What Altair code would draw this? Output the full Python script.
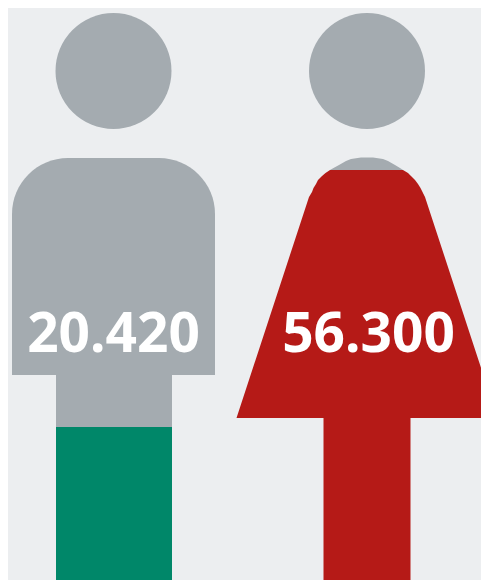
import altair as alt
import pandas as pd

BG = "#eceef0"
GREY = "#a4abb0"
RED = "#b51a17"
GREEN = "#008769"

# rectangles
rect_x = [12, 56, 56, 323.5]
rect_x2 = [215, 172, 172, 410.5]
rect_y = [158, 375, 427, 418]
rect_y2 = [375, 427, 588, 588]
rect_part = ["torso", "upper leg", "lower leg", "skirt leg"]

# heads
head_x = [113.5, 367]
head_y = [71, 71]

# dress silhouette
cap_y = [157.5, 159, 161, 163, 165, 168, 170]
cap_l = [361, 351, 346, 342.5, 339, 333.5, 330]
cap_r = [373, 383, 388, 391.5, 395, 400, 403]
dress_y = [170, 173, 176, 180, 184, 188, 192, 197, 418]
dress_l = [330, 325.5, 322, 318, 316, 313.5, 312, 309, 236.5]
dress_r = [403, 408, 411, 415, 418, 420.5, 422.5, 425, 497.5]

# labels
label_x = [113.5, 368.5]
label_y = [352, 352]
label_text = ["20.420", "56.300"]

x_scale = alt.Scale(domain=[8, 481], range=[0, 473], nice=False, zero=False)
y_scale = alt.Scale(domain=[8, 580], range=[0, 572], nice=False, zero=False)
X = lambda f: alt.X(f, type="quantitative", scale=x_scale, axis=None)
Y = lambda f: alt.Y(f, type="quantitative", scale=y_scale, axis=None)

rects = pd.DataFrame({"x": rect_x, "x2": rect_x2, "y": rect_y, "y2": rect_y2, "part": rect_part})
heads = pd.DataFrame({"x": head_x, "y": head_y})
cap = pd.DataFrame({"y": cap_y, "l": cap_l, "r": cap_r})
dress = pd.DataFrame({"y": dress_y, "l": dress_l, "r": dress_r})
labels = pd.DataFrame({"x": label_x, "y": label_y, "t": label_text})


def rect_layer(part, color, **kw):
    return alt.Chart(rects[rects.part == part]).mark_rect(color=color, clip=True, **kw).encode(
        x=X("x"), x2="x2", y=Y("y"), y2="y2")


def shape_layer(df, color):
    return alt.Chart(df).mark_area(orient="horizontal", color=color, clip=True, opacity=1).encode(
        y=Y("y"), x=X("l"), x2="r")


layers = [
    alt.Chart(heads).mark_circle(color=GREY, opacity=1, size=13456).encode(x=X("x"), y=Y("y")),
    rect_layer("torso", GREY, cornerRadiusTopLeft=56, cornerRadiusTopRight=56),
    rect_layer("upper leg", GREY),
    rect_layer("lower leg", GREEN),
    shape_layer(cap, GREY),
    shape_layer(dress, RED),
    rect_layer("skirt leg", RED),
    alt.Chart(labels).mark_text(font="Noto Sans", fontWeight="bold", fontSize=55, color="white",
                                align="center", baseline="alphabetic").encode(
        x=X("x"), y=Y("y"), text="t:N"),
]

chart = alt.layer(*layers).properties(
    width=473, height=572, background=BG, padding=0,
    view=alt.ViewConfig(stroke=None, fill=BG),
).configure_view(strokeWidth=0)

chart.save("out.html", embed_options={"renderer": "svg", "actions": False})
